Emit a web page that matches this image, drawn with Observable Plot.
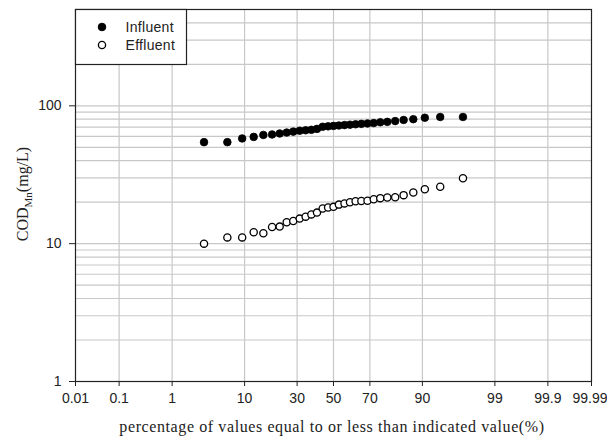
<!DOCTYPE html>
<html>
<head>
<meta charset="utf-8">
<script src="https://cdn.jsdelivr.net/npm/d3@7"></script>
<script src="https://cdn.jsdelivr.net/npm/@observablehq/plot@0.6"></script>
<style>
  html, body { margin: 0; padding: 0; background: white; }
  #chart { width: 607px; height: 439px; }
</style>
</head>
<body>
<div id="chart"></div>
<script>
// ---- data ----
const percentages = [3.1, 6.3, 9.4, 12.5, 15.6, 18.8, 21.9, 25, 28.1, 31.3, 34.4, 37.5, 40.6, 43.8, 46.9, 50,
  53.1, 56.3, 59.4, 62.5, 65.6, 68.8, 71.9, 75, 78.1, 81.3, 84.4, 87.5, 90.6, 93.8, 96.9];
const influent = [54.5, 54.5, 58, 59.5, 61.5, 62, 63, 64, 65, 66, 66.5, 67, 68, 70.5, 71, 71.5,
  72, 72.5, 73, 73.5, 74, 74.5, 75, 76, 76.5, 77.5, 79, 80, 82, 83, 83];
const effluent = [10.0, 11.1, 11.1, 12.1, 11.9, 13.2, 13.3, 14.3, 14.6, 15.2, 15.7, 16.3, 16.8, 18.0, 18.3, 18.5,
  19.2, 19.6, 20.0, 20.3, 20.4, 20.5, 21.0, 21.4, 21.6, 21.7, 22.5, 23.5, 24.8, 25.9, 29.8];
const xTicks = [0.01, 0.1, 1, 10, 30, 50, 70, 90, 99, 99.9, 99.99];
const xTickLabels = ["0.01", "0.1", "1", "10", "30", "50", "70", "90", "99", "99.9", "99.99"];
const yTicks = [1, 10, 100];
const yGrid = [2, 3, 4, 5, 6, 7, 8, 9, 10, 20, 30, 40, 50, 60, 70, 80, 90, 100, 200, 300, 400];
const seriesNames = ["Influent", "Effluent"];
const xTitle = "percentage of values equal to or less than indicated value(%)";

// inverse normal CDF (Acklam)
function probit(p) {
  const a = [-3.969683028665376e+01, 2.209460984245205e+02, -2.759285104469687e+02, 1.383577518672690e+02, -3.066479806614716e+01, 2.506628277459239e+00];
  const b = [-5.447609879822406e+01, 1.615858368580409e+02, -1.556989798598866e+02, 6.680131188771972e+01, -1.328068155288572e+01];
  const c = [-7.784894002430293e-03, -3.223964580411365e-01, -2.400758277161838e+00, -2.549671010229528e+00, 4.374664141464968e+00, 2.938163982698783e+00];
  const d = [7.784695709041462e-03, 3.224671290700398e-01, 2.445134137142996e+00, 3.754408661907416e+00];
  const pl = 0.02425, ph = 1 - pl;
  let q, r;
  if (p < pl) {
    q = Math.sqrt(-2 * Math.log(p));
    return (((((c[0]*q+c[1])*q+c[2])*q+c[3])*q+c[4])*q+c[5]) / ((((d[0]*q+d[1])*q+d[2])*q+d[3])*q+1);
  }
  if (p <= ph) {
    q = p - 0.5; r = q * q;
    return (((((a[0]*r+a[1])*r+a[2])*r+a[3])*r+a[4])*r+a[5])*q / (((((b[0]*r+b[1])*r+b[2])*r+b[3])*r+b[4])*r+1);
  }
  q = Math.sqrt(-2 * Math.log(1 - p));
  return -(((((c[0]*q+c[1])*q+c[2])*q+c[3])*q+c[4])*q+c[5]) / ((((d[0]*q+d[1])*q+d[2])*q+d[3])*q+1);
}
const z = pct => probit(pct / 100);

const inRows = percentages.map((p, i) => ({p, v: influent[i]}));
const effRows = percentages.map((p, i) => ({p, v: effluent[i]}));
const labelMap = new Map(xTicks.map((t, i) => [z(t).toFixed(6), xTickLabels[i]]));

const chart = Plot.plot({
  width: 607,
  height: 439,
  marginLeft: 75,
  marginRight: 16,
  marginTop: 9,
  marginBottom: 58,
  style: {fontFamily: "'Liberation Sans', Arial, sans-serif", fontSize: "14px", color: "#222", background: "white"},
  x: {domain: [z(0.01), z(99.99)]},
  y: {type: "log", domain: [1, 500]},
  marks: [
    Plot.ruleY(yGrid, {stroke: "#c8c8c8", strokeWidth: 1.2}),
    Plot.ruleX(xTicks.slice(1, -1), {x: d => z(d), stroke: "#c8c8c8", strokeWidth: 1.2}),
    Plot.frame({stroke: "#222", strokeWidth: 1.2}),
    Plot.axisX({ticks: xTicks.map(z), tickFormat: v => labelMap.get(v.toFixed(6)) ?? "", tickSize: 5, tickPadding: 7, label: null, textStroke: "none"}),
    Plot.axisY({ticks: yTicks, tickFormat: d => String(d), tickSize: 6, tickPadding: 8, label: null}),
    Plot.dot(inRows, {x: d => z(d.p), y: "v", r: 3.8, fill: "black", stroke: "black", strokeWidth: 0.8}),
    Plot.dot(effRows, {x: d => z(d.p), y: "v", r: 3.6, fill: "white", stroke: "black", strokeWidth: 1.3})
  ]
});

document.getElementById("chart").appendChild(chart);

const svg = d3.select(chart);
// nudge the last x tick label so it stays inside the picture, as in the reference
svg.selectAll("g[aria-label='x-axis tick label'] text")
  .filter(function() { return this.textContent === "99.99"; })
  .attr("dx", -1.5);

// Legend
const lg = svg.append("g");
lg.append("rect").attr("x", 75.5).attr("y", 9.5).attr("width", 111).attr("height", 55)
  .attr("fill", "white").attr("stroke", "#222").attr("stroke-width", 1.2);
lg.append("circle").attr("cx", 102).attr("cy", 27).attr("r", 3.8).attr("fill", "black").attr("stroke", "black");
lg.append("circle").attr("cx", 102).attr("cy", 45).attr("r", 3.6).attr("fill", "white").attr("stroke", "black").attr("stroke-width", 1.3);
lg.selectAll("text.leg").data(seriesNames).join("text")
  .attr("class", "leg")
  .attr("x", 125.5).attr("y", (d, i) => 27 + 18 * i).attr("dy", "0.35em")
  .attr("text-anchor", "start")
  .attr("font-family", "'Liberation Sans', Arial, sans-serif").attr("font-size", 14).attr("fill", "#222")
  .attr("letter-spacing", "0.3px")
  .text(d => d);

// X title
svg.append("text").attr("x", 332).attr("y", 432).attr("text-anchor", "middle")
  .attr("font-family", "'Liberation Serif', 'Times New Roman', serif").attr("font-size", 16)
  .attr("letter-spacing", "0.6px").attr("fill", "#222").text(xTitle);

// Y title with subscript
const yt = svg.append("text").attr("transform", "translate(28,194) rotate(-90)").attr("text-anchor", "middle")
  .attr("font-family", "'Liberation Serif', 'Times New Roman', serif").attr("font-size", 16).attr("fill", "#222");
yt.append("tspan").text("COD");
yt.append("tspan").attr("font-size", 11).attr("dy", 4).text("Mn");
yt.append("tspan").attr("dy", -4).text("(mg/L)");
</script>
</body>
</html>
